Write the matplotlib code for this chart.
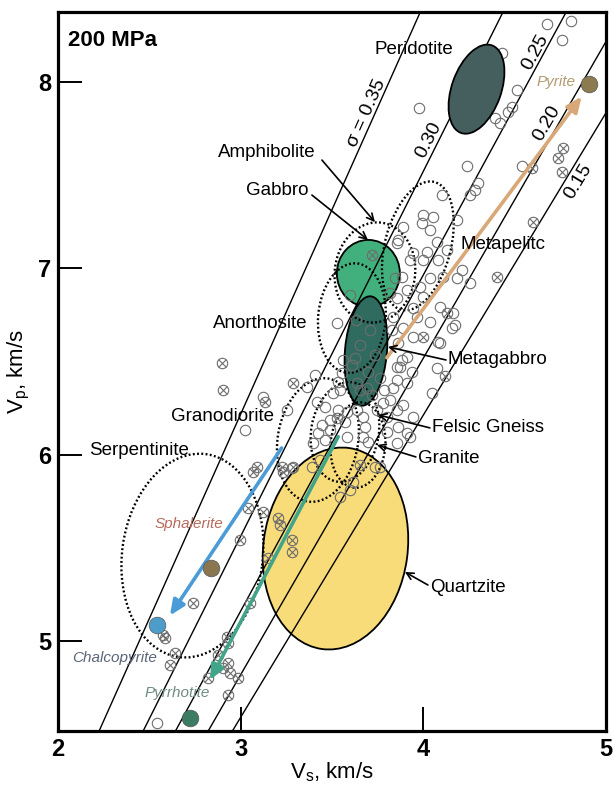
import numpy as np
import matplotlib
matplotlib.use("Agg")
import matplotlib.pyplot as plt
from matplotlib.patches import Ellipse

plt.rcParams['font.family'] = ['Liberation Sans', 'DejaVu Sans']

# Poisson ratio reference lines (Vp = slope * Vs + intercept)
sigma_labels = ["σ = 0.35", "0.30", "0.25", "0.20", "0.15"]
sigma_slope = [2.197, 1.961, 1.806, 1.701, 1.624]
sigma_icpt = [-0.374, -0.322, -0.259, -0.286, -0.284]
sigma_lab_vs = [3.690, 4.031, 4.616, 4.677, 4.846]
sigma_lab_vp = [7.835, 7.690, 8.163, 7.782, 7.465]

# rock fields: name, Vs, Vp, major, minor, angle
filled_names = ["Quartzite", "Gabbro", "Metagabbro", "Peridotite"]
filled_vs = [3.519, 3.699, 3.686, 4.291]
filled_vp = [5.495, 6.973, 6.556, 7.963]
filled_major = [1.09, 0.36, 0.59, 0.50]
filled_minor = [0.79, 0.345, 0.23, 0.27]
filled_angle = [82, 90, 85, 70]
filled_color = ["#f8dc7a", "#41b07c", "#2f6b5e", "#455f5e"]

dotted_names = ["Serpentinite", "Metapelitic", "Amphibolite", "Anorthosite",
                "Granodiorite", "Felsic Gneiss", "Granite"]
dotted_vs = [2.736, 3.970, 3.735, 3.609, 3.423, 3.571, 3.642]
dotted_vp = [5.457, 7.121, 6.978, 6.733, 6.078, 6.121, 6.051]
dotted_major = [1.10, 0.71, 0.54, 0.59, 0.67, 0.54, 0.46]
dotted_minor = [0.77, 0.36, 0.44, 0.37, 0.44, 0.37, 0.30]
dotted_angle = [82, 75, 82, 85, 80, 80, 85]

# rock samples (open circles)
open_vs = [4.675, 4.811, 4.757, 4.428, 4.510, 4.483, 4.465, 4.392, 4.419, 3.978,
           4.240, 4.538, 4.300, 4.282, 4.255, 4.100, 4.000, 4.054, 3.991, 4.036,
           4.182, 3.890, 4.073, 3.854, 4.127, 4.018, 4.000, 4.082, 3.927, 4.209,
           4.109, 4.036, 4.182, 4.255, 3.881, 3.945, 3.863, 3.981, 3.909, 3.817,
           3.854, 4.000, 4.091, 3.945, 3.963, 4.036, 3.835, 3.826, 3.890, 3.945,
           4.155, 3.863, 4.164, 4.091, 4.073, 4.045, 3.872, 3.909, 3.936, 4.082,
           4.173, 3.598, 3.845, 3.525, 3.631, 3.708, 3.653, 3.735, 3.609, 3.697,
           3.762, 3.653, 3.718, 3.784, 3.407, 3.361, 3.507, 3.543, 3.416, 3.461,
           3.534, 3.580, 3.488, 3.443, 3.488, 3.571, 3.425, 3.461, 3.397, 3.580,
           3.635, 3.671, 3.680, 3.671, 3.698, 3.744, 3.780, 3.817, 3.799, 3.854,
           3.890, 3.945, 3.863, 3.909, 3.799, 3.835, 3.854, 3.909, 3.854, 3.881,
           3.626, 3.635, 3.690, 3.562, 3.553, 3.534, 3.854, 3.762, 3.927, 3.735,
           3.434, 3.389, 3.279, 3.616, 3.543, 3.598, 3.252, 3.023, 3.124, 2.540]
open_vp = [8.313, 8.329, 8.227, 8.156, 7.959, 7.869, 7.842, 7.807, 7.780, 7.860,
           7.550, 7.550, 7.457, 7.421, 7.394, 7.394, 7.287, 7.278, 7.242, 7.206,
           7.260, 7.224, 7.143, 7.135, 7.099, 7.090, 7.045, 7.045, 7.045, 6.991,
           6.955, 6.947, 6.947, 6.920, 6.955, 7.081, 7.153, 6.902, 6.884, 6.866,
           6.839, 6.848, 6.794, 6.786, 6.740, 6.713, 6.740, 6.669, 6.678, 6.633,
           6.678, 6.598, 6.759, 6.598, 6.463, 6.329, 6.472, 6.526, 6.445, 6.606,
           6.696, 6.857, 6.947, 6.705, 6.723, 6.669, 6.588, 6.535, 6.481, 6.443,
           6.411, 6.346, 6.319, 6.346, 6.427, 6.364, 6.329, 6.347, 6.284, 6.257,
           6.239, 6.230, 6.185, 6.158, 6.131, 6.176, 6.114, 6.078, 6.060, 6.096,
           6.239, 6.203, 6.149, 6.096, 6.069, 6.239, 6.275, 6.293, 6.203, 6.239,
           6.266, 6.203, 6.149, 6.114, 6.122, 6.356, 6.400, 6.383, 6.472, 6.508,
           6.517, 6.383, 6.356, 6.508, 6.436, 6.391, 6.060, 5.934, 6.096, 5.934,
           5.970, 5.934, 5.926, 5.854, 5.773, 5.809, 6.239, 6.131, 6.311, 4.556]

# rock samples (crossed circles)
cross_vs = [4.762, 4.738, 4.757, 4.593, 4.601, 4.401, 4.118, 3.717, 3.525, 3.288,
            3.133, 3.653, 3.224, 3.088, 2.905, 2.898, 3.069, 3.233, 3.288, 3.042,
            3.124, 2.996, 2.737, 3.051, 2.576, 2.586, 2.640, 2.613, 2.923, 2.932,
            2.877, 2.932, 2.905, 2.941, 2.987, 2.823, 2.932, 3.206, 3.215, 3.279,
            3.279, 3.151, 4.127, 4.000]
cross_vp = [7.649, 7.592, 7.520, 7.538, 7.251, 6.955, 6.422, 7.072, 6.194, 6.382,
            6.284, 5.944, 5.934, 5.934, 6.347, 6.492, 5.908, 5.908, 5.934, 5.711,
            5.693, 5.540, 5.200, 5.200, 5.030, 5.012, 4.935, 4.869, 5.021, 4.985,
            4.923, 4.881, 4.851, 4.824, 4.798, 4.798, 4.708, 5.657, 5.621, 5.541,
            5.478, 5.442, 6.759, 6.633]

# minerals
min_names = ["Pyrite", "Sphalerite", "Chalcopyrite", "Pyrrhotite"]
min_vs = [4.906, 2.837, 2.542, 2.720]
min_vp = [7.990, 5.390, 5.085, 4.585]
min_color = ["#8b7b4f", "#8a7750", "#4d9dcb", "#3c7c63"]
min_lab_vs = [4.835, 2.531, 2.077, 2.476]
min_lab_vp = [8.000, 5.627, 4.907, 4.719]
min_lab_color = ["#b39a70", "#b86a5c", "#5b6478", "#6f8c80"]

# mixing trends: start Vs, start Vp, end Vs, end Vp
trend_start_vs = [3.800, 3.224, 3.534]
trend_start_vp = [6.520, 6.035, 6.096]
trend_end_vs = [4.866, 2.613, 2.832]
trend_end_vp = [7.923, 5.135, 4.788]
trend_color = ["#d9a878", "#4a9bd6", "#42a58a"]

# rock labels
label_text = ["Peridotite", "Amphibolite", "Gabbro", "Anorthosite", "Metapelitc",
              "Metagabbro", "Felsic Gneiss", "Granite", "Quartzite",
              "Granodiorite", "Serpentinite"]
label_vs = [3.730, 2.876, 3.029, 2.848, 4.206, 4.135, 4.047, 3.970, 4.036, 2.618, 2.170]
label_vp = [8.174, 7.620, 7.421, 6.705, 7.126, 6.508, 6.143, 5.977, 5.288, 6.202, 6.024]

# pointer arrows: text end -> field
ptr_from_vs = [3.445, 3.390, 4.124, 4.036, 3.959, 4.025]
ptr_from_vp = [7.582, 7.394, 6.508, 6.143, 5.987, 5.299]
ptr_to_vs = [3.735, 3.697, 3.806, 3.752, 3.746, 3.899]
ptr_to_vp = [7.249, 7.153, 6.578, 6.213, 6.051, 5.369]

fig = plt.figure(figsize=(6.13, 7.87), dpi=100)
ax = fig.add_axes([0.0946, 0.0715, 0.894, 0.9136])
ax.set_xlim(2, 5)
ax.set_ylim(4.516, 8.379)

for i in range(len(filled_names)):
    z = 4 if filled_names[i] == "Peridotite" else 1
    ax.add_patch(Ellipse((filled_vs[i], filled_vp[i]), filled_major[i], filled_minor[i],
                         angle=filled_angle[i], facecolor=filled_color[i],
                         edgecolor="black", lw=1.3, zorder=z))

vs_line = np.array([2.0, 5.0])
for s, b in zip(sigma_slope, sigma_icpt):
    ax.plot(vs_line, s * vs_line + b, color="black", lw=1.0, zorder=2)
for i in range(len(sigma_labels)):
    ang = np.degrees(np.arctan(sigma_slope[i]))
    ax.text(sigma_lab_vs[i], sigma_lab_vp[i], sigma_labels[i], rotation=ang,
            transform_rotates_text=True, rotation_mode="anchor",
            ha="center", va="center", fontsize=14, zorder=6)

for i in range(len(dotted_names)):
    ax.add_patch(Ellipse((dotted_vs[i], dotted_vp[i]), dotted_major[i], dotted_minor[i],
                         angle=dotted_angle[i], fill=False, edgecolor="black",
                         lw=1.7, linestyle=(0, (0.8, 1.0)), zorder=3))

ax.plot(open_vs, open_vp, "o", ms=7.5, mfc="none", mec="#6e6e6e", mew=0.8, zorder=3)
ax.plot(cross_vs, cross_vp, "o", ms=7.5, mfc="none", mec="#6e6e6e", mew=0.8, zorder=3)
ax.plot(cross_vs, cross_vp, "x", ms=5.3, mec="#6e6e6e", mew=0.8, zorder=3)

for i in range(len(trend_color)):
    ax.annotate("", xy=(trend_end_vs[i], trend_end_vp[i]),
                xytext=(trend_start_vs[i], trend_start_vp[i]),
                arrowprops=dict(arrowstyle="-|>,head_length=0.9,head_width=0.4",
                                color=trend_color[i], lw=2.6, shrinkA=0, shrinkB=0),
                zorder=5)

for i in range(len(min_names)):
    ax.plot(min_vs[i], min_vp[i], "o", ms=12, color=min_color[i],
            mec="#555555", mew=0.5, zorder=7)
    ha = "right" if min_names[i] == "Pyrite" else "left"
    ax.text(min_lab_vs[i], min_lab_vp[i], min_names[i], ha=ha, va="center",
            fontsize=11, style="italic", color=min_lab_color[i], zorder=7)

for i in range(len(label_text)):
    ax.text(label_vs[i], label_vp[i], label_text[i], ha="left", va="center",
            fontsize=13.5, zorder=8)
for i in range(len(ptr_from_vs)):
    ax.annotate("", xy=(ptr_to_vs[i], ptr_to_vp[i]), xytext=(ptr_from_vs[i], ptr_from_vp[i]),
                arrowprops=dict(arrowstyle="->,head_length=0.5,head_width=0.25",
                                color="black", lw=1.2, shrinkA=0, shrinkB=0),
                zorder=8)

ax.text(0.018, 0.975, "200 MPa", transform=ax.transAxes, ha="left", va="top",
        fontsize=16, fontweight="bold")

ax.set_xticks([2, 3, 4, 5])
ax.set_yticks([5, 6, 7, 8])
ax.tick_params(direction="in", length=17, width=1.4, labelsize=17, pad=5)
for lab in ax.get_xticklabels() + ax.get_yticklabels():
    lab.set_fontweight("bold")
for sp in ax.spines.values():
    sp.set_linewidth(2.3)

ax.set_xlabel("V$_\\mathregular{s}$, km/s", fontsize=16, labelpad=0)
ax.set_ylabel("V$_\\mathregular{p}$, km/s", fontsize=16, labelpad=4)

fig.savefig("out.png", dpi=100)
